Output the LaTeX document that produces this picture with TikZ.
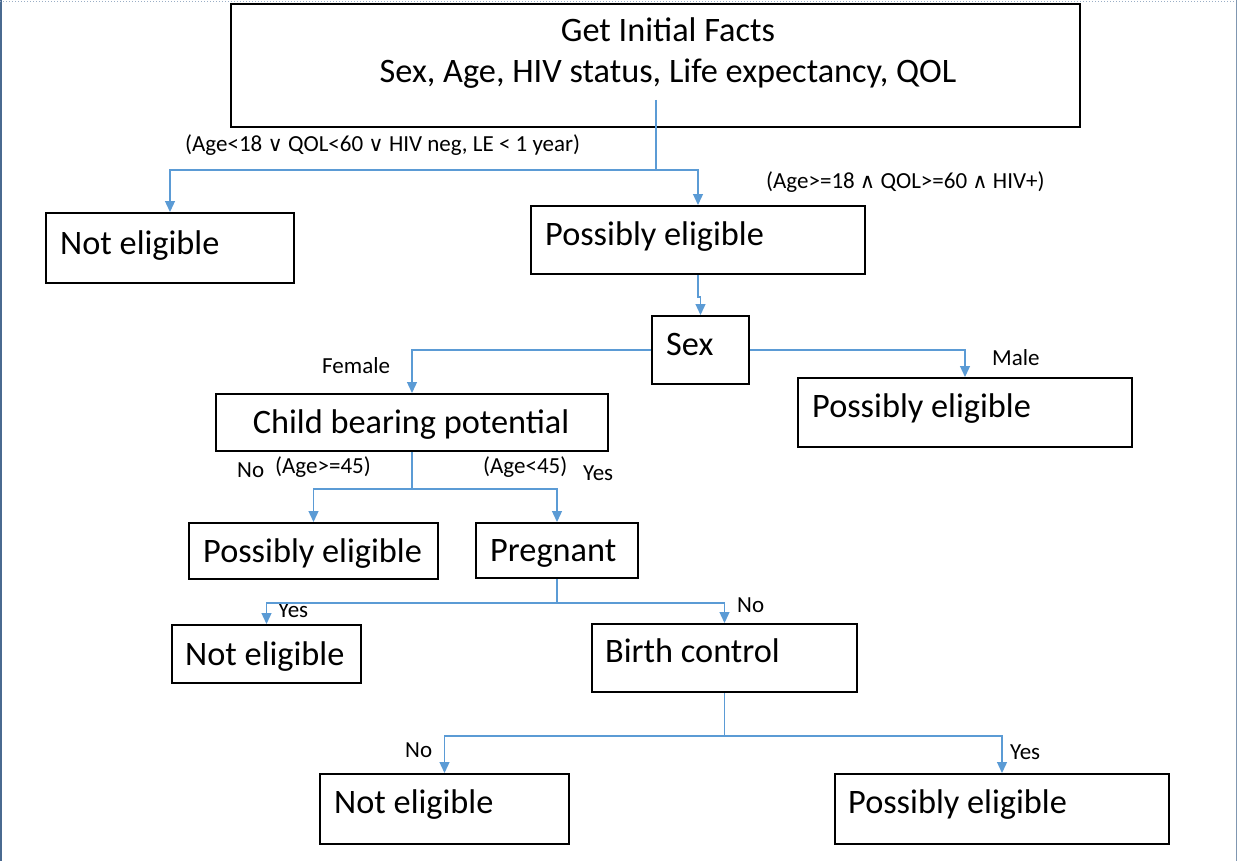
\documentclass[tikz,border=0pt]{standalone}
\usepackage{fontspec}
\setmainfont{Carlito}
\newfontfamily\dejavu{DejaVu Sans}
\usetikzlibrary{arrows.meta}
\definecolor{connc}{HTML}{5B9BD5}
\definecolor{framec}{HTML}{4A6A90}
\definecolor{framet}{HTML}{9AAEC6}
\newcommand{\orop}{{\dejavu\fontsize{21}{25}\selectfont ∨}}
\newcommand{\andop}{{\dejavu\fontsize{21}{25}\selectfont ∧}}
\begin{document}
\begin{tikzpicture}[x=1pt,y=-1pt,
  box/.style={draw=black, line width=2pt, inner sep=0pt, anchor=north west},
  big/.style={anchor=base west, inner sep=0pt, font=\fontsize{34.3}{41}\selectfont},
  lab/.style={anchor=base west, inner sep=0pt, font=\fontsize{23}{28}\selectfont},
  arr/.style={draw=connc, line width=1.3pt, -{Triangle[length=11pt,width=10pt]}},
  wire/.style={draw=connc, line width=1.3pt}]
\useasboundingbox (0,0) rectangle (1238,861);
\fill[white] (0,0) rectangle (1238,861);
% frame
\draw[framec, line width=2pt] (1,0) -- (1,861);
\draw[framet, line width=1pt, dotted] (0,2) -- (1238,2);
\draw[framec!70, line width=1pt] (1236.5,0) -- (1236.5,861);

% boxes
\node[box, minimum width=849pt, minimum height=123pt] (top) at (230,3) {};
\node[box, minimum width=248pt, minimum height=70pt] (ne1) at (45,212) {};
\node[box, minimum width=334pt, minimum height=68pt] (pe1) at (530,205) {};
\node[box, minimum width=97pt, minimum height=68pt] (sex) at (651,315) {};
\node[box, minimum width=334pt, minimum height=69pt] (pem) at (797,377) {};
\node[box, minimum width=392pt, minimum height=57pt] (cbp) at (215,393) {};
\node[box, minimum width=249pt, minimum height=56pt] (pe2) at (188,522) {};
\node[box, minimum width=162pt, minimum height=55pt] (preg) at (475,522) {};
\node[box, minimum width=189pt, minimum height=58pt] (ne2) at (171,624) {};
\node[box, minimum width=265pt, minimum height=68pt] (bc) at (591,623) {};
\node[box, minimum width=249pt, minimum height=70pt] (ne3) at (319,773) {};
\node[box, minimum width=334pt, minimum height=70pt] (pe3) at (834,773) {};

% texts
\node[big, anchor=base] (t1) at (668,42) {Get Initial Facts};
\node[big, anchor=base] (t2) at (668,83) {Sex, Age, HIV status, Life expectancy, QOL};
\node[big] (x1) at (60,254) {Not eligible};
\node[big] (x2) at (545,245) {Possibly eligible};
\node[big] (x3) at (666,355) {Sex};
\node[big] (x4) at (812,417) {Possibly eligible};
\node[big, anchor=base] (x5) at (411,433) {Child bearing potential};
\node[big] (x6) at (203,562) {Possibly eligible};
\node[big] (x7) at (490,561) {Pregnant};
\node[big] (x8) at (185,665) {Not eligible};
\node[big] (x9) at (605,662) {Birth control};
\node[big] (x10) at (334,813) {Not eligible};
\node[big] (x11) at (848,813) {Possibly eligible};

% labels
\node[lab] (l1) at (185,152) {(Age<18 \orop{} QOL<60 \orop{} HIV neg, LE < 1 year)};
\node[lab] (l2) at (766,188) {(Age>=18 \andop{} QOL>=60 \andop{} HIV+)};
\node[lab] (l3) at (322,373) {Female};
\node[lab] (l4) at (992,365) {Male};
\node[lab] (l5) at (237,477) {No};
\node[lab] (l6) at (275,473) {(Age>=45)};
\node[lab] (l7) at (483,473) {(Age<45)};
\node[lab] (l8) at (583,480) {Yes};
\node[lab] (l9) at (278,617) {Yes};
\node[lab] (l10) at (737,612) {No};
\node[lab] (l11) at (405,757) {No};
\node[lab] (l12) at (1010,759) {Yes};

% connectors
\coordinate (t0) at (656,100);
\draw[wire] (t0) -- ++(0,70) coordinate (j1);
\draw[arr] (j1) -| (ne1.north);
\draw[arr] (j1) -| (pe1.north);

\draw[arr] (pe1.south) -- ++(0,22) -| (sex.north);

\draw[arr] (sex.west) -| (cbp.north);
\draw[arr] (sex.east) -| (pem.north);

\draw[wire] (cbp.south) -- ++(0,37) coordinate (j2);
\draw[arr] (j2) -| (pe2.north);
\draw[arr] (j2) -| (preg.north);

\draw[wire] (preg.south) -- ++(0,24) coordinate (j3);
\draw[arr] (j3) -| (ne2.north);
\draw[arr] (j3) -| (bc.north);

\draw[wire] (bc.south) -- ++(0,43) coordinate (j4);
\draw[arr] (j4) -| (ne3.north);
\draw[arr] (j4) -| (pe3.north);
\end{tikzpicture}
\end{document}
